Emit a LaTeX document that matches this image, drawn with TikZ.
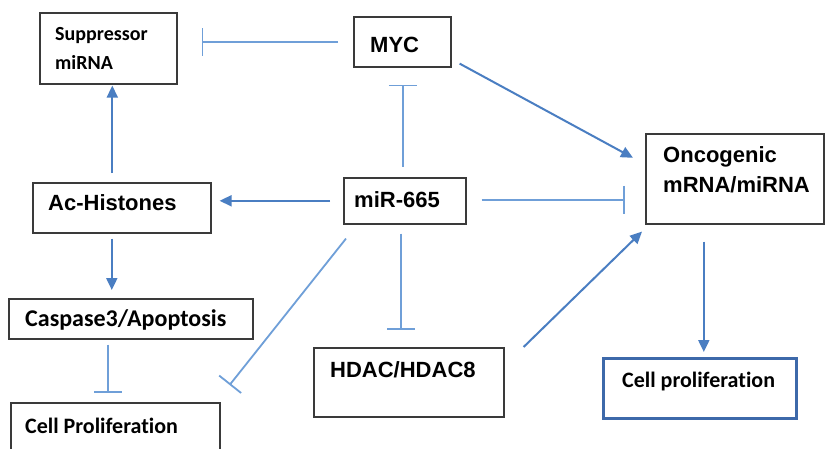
\documentclass[tikz,border=0pt]{standalone}
\usepackage{fontspec}
\setmainfont{Liberation Sans}
\newfontfamily\calfont{Carlito}[Ligatures=NoCommon]
\usetikzlibrary{arrows.meta,calc}
\definecolor{arrblue}{HTML}{4A7EC2}
\definecolor{inhblue}{HTML}{6F9FD8}
\definecolor{boxgray}{HTML}{3A3A3A}
\definecolor{boxblue}{HTML}{3D69AA}
\begin{document}
\begin{tikzpicture}[x=1pt,y=-1pt,
 box/.style={draw=boxgray,line width=1.6pt,anchor=north west,inner sep=0pt,fill=white},
 lbl/.style={anchor=base west,inner sep=0pt,font=\fontsize{22}{26}\selectfont\bfseries},
 clbl/.style={anchor=base west,inner sep=0pt,font=\fontsize{22}{26}\selectfont\calfont\bfseries},
 act/.style={draw=arrblue,line width=2pt,-{Triangle[length=12pt,width=11pt]}},
 inh/.style={draw=inhblue,line width=1.8pt,-{Bar[width=28pt]}},
]
\useasboundingbox (0,0) rectangle (826,449);
\clip (0,0) rectangle (826,449);
\fill[white] (0,0) rectangle (826,449);

% boxes
\node[box,minimum width=137pt,minimum height=71pt] (sup) at (39,12) {};
\node[box,minimum width=97pt,minimum height=50pt] (myc) at (353,16) {};
\node[box,minimum width=178pt,minimum height=50pt] (ach) at (32,182) {};
\node[box,minimum width=122pt,minimum height=46pt] (mir) at (343,177) {};
\node[box,minimum width=178pt,minimum height=90pt] (onc) at (645,133) {};
\node[box,minimum width=244pt,minimum height=40pt] (casp) at (8,298) {};
\node[box,minimum width=209pt,minimum height=60pt] (cpl) at (10,402) {};
\node[box,minimum width=190pt,minimum height=69pt] (hdac) at (313,347) {};
\node[box,draw=boxblue,line width=3.2pt,minimum width=193pt,minimum height=60pt] (cpr) at (602,357) {};

% labels
\node[clbl,font=\fontsize{20}{24}\selectfont\calfont\bfseries] (supT1) at (55,41) {Suppressor};
\node[clbl,font=\fontsize{20}{24}\selectfont\calfont\bfseries] (supT2) at (55,70) {miRNA};
\node[lbl] (mycT) at (370,53) {MYC};
\node[lbl] (achT) at (48,210) {Ac-Histones};
\node[lbl] (mirT) at (354,207) {miR-665};
\node[lbl] (oncT1) at (663,163) {Oncogenic};
\node[lbl] (oncT2) at (663,193) {mRNA/miRNA};
\node[clbl,font=\fontsize{24}{28}\selectfont\calfont\bfseries] (caspT) at (25,326) {Caspase3/Apoptosis};
\node[clbl] (cplT) at (25,433) {Cell Proliferation};
\node[lbl] (hdacT) at (330,377) {HDAC/HDAC8};
\node[clbl] (cprT) at (622,387) {Cell proliferation};

% connectors
\draw[inh] ($(myc.west)+(-15,0)$) -- ($(myc.west -| sup.east)+(24,0)$);
\draw[inh] ($(mir.north)+(-2,-10)$) -- ($(mir.north |- myc.south)+(-2,17)$);
\draw[act] ($(mir.west)+(-13,0)$) -- ($(mir.west -| ach.east)+(8,0)$);
\draw[act] ($(sup.south |- ach.north)+(4,-9)$) -- ($(sup.south)+(4,1)$);
\draw[act] ($(myc.south east)+(8,-4)$) -- ($(onc.west)+(-12,-21)$);
\draw[inh] ($(mir.east)+(15,-1)$) -- ($(mir.east -| onc.west)+(-20,-1)$);
\draw[inh] ($(mir.south)+(-4,9)$) -- ($(mir.south |- hdac.north)+(-4,-17)$);
\draw[inh] ($(mir.south west)+(3,14)$) -- ($(cpl.north east)+(9,-17)$);
\draw[act] ($(ach.south)+(-10,5)$) -- ($(ach.south |- casp.north)+(-10,-8)$);
\draw[inh] ($(casp.south)+(-23,5)$) -- ($(casp.south |- cpl.north)+(-23,-9)$);
\draw[act] ($(hdac.north east)+(19,0)$) -- ($(onc.south west)+(-3,7)$);
\draw[act] ($(onc.south)+(-31,17)$) -- ($(onc.south |- cpr.north)+(-31,-5)$);
\end{tikzpicture}
\end{document}
